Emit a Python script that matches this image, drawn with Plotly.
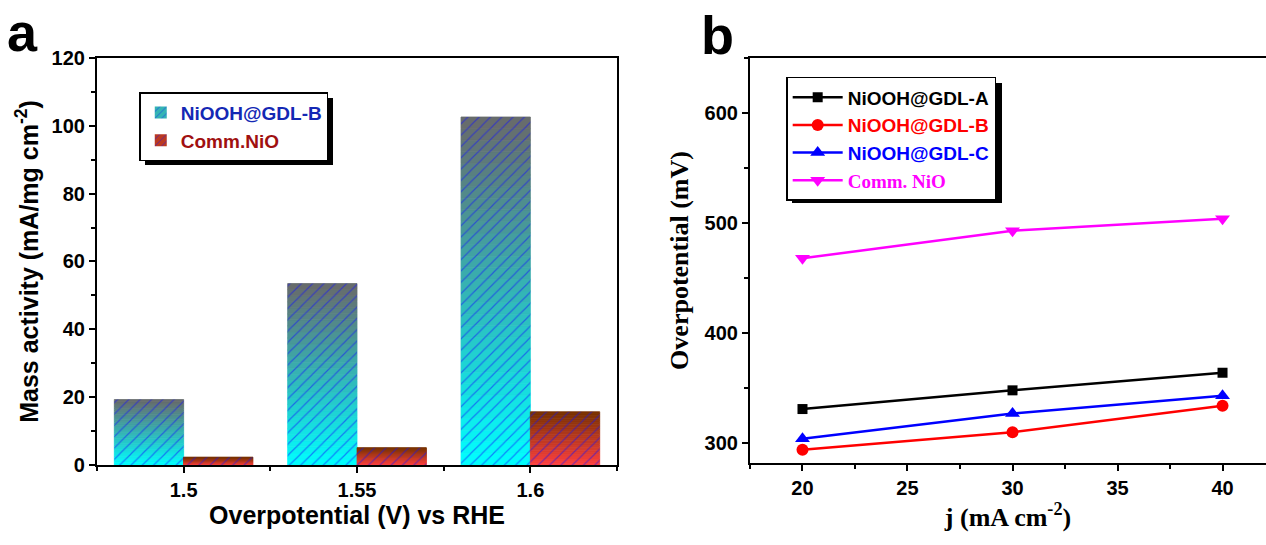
import plotly.graph_objects as go

# ---------------- data ----------------
potentials = ["1.5", "1.55", "1.6"]
niooh_b_mass = [19.3, 53.5, 102.6]
comm_nio_mass = [2.3, 5.1, 15.7]

j_vals = [20, 30, 40]
eta_a = [331, 348, 364]
eta_b = [294, 310, 334]
eta_c = [304, 327, 343]
eta_nio = [468, 493, 504]

# ---------------- styles ----------------
ARIAL = "Liberation Sans, Arial"
TIMES = "Liberation Serif, Times New Roman"
N_SEG = 30
W, H = 1266, 545

def lerp(c0, c1, t):
    return "rgb(%d,%d,%d)" % tuple(round(a + (b - a) * t) for a, b in zip(c0, c1))

fig = go.Figure()
xpos = list(range(len(potentials)))

series = [
    ("NiOOH@GDL-B", niooh_b_mass, (0, 255, 255), (105, 105, 105), "#1428b4", "g0"),
    ("Comm.NiO", comm_nio_mass, (255, 64, 64), (120, 50, 0), "#a01010", "g1"),
]

for name, vals, cbot, ctop, tcol, grp in series:
    # gradient: stacked slices of each bar
    for k in range(N_SEG):
        c = lerp(cbot, ctop, (k + 0.5) / N_SEG)
        fig.add_trace(go.Bar(
            x=xpos, y=[v / N_SEG for v in vals], base=[v * k / N_SEG for v in vals],
            offsetgroup=grp, marker=dict(color=c, line=dict(width=0.8, color=c)),
            showlegend=False, hoverinfo="skip", xaxis="x", yaxis="y"))
    # hatch overlay
    fig.add_trace(go.Bar(
        x=xpos, y=vals, offsetgroup=grp,
        marker=dict(color="rgba(0,0,0,0)", line=dict(width=0),
                    pattern=dict(shape="/", fgcolor="#1010ff", size=8, solidity=0.15, fillmode="overlay")),
        showlegend=False, xaxis="x", yaxis="y"))
    # legend entry
    fig.add_trace(go.Bar(
        x=[xpos[0]], y=[None], offsetgroup=grp, name='<span style="color:%s">%s</span>' % (tcol, name),
        marker=dict(color=lerp(cbot, ctop, 0.5), line=dict(width=0),
                    pattern=dict(shape="/", fgcolor="#1010ff", size=6, solidity=0.2, fillmode="overlay")),
        showlegend=True, legend="legend", xaxis="x", yaxis="y"))

line_series = [
    ("NiOOH@GDL-A", eta_a, "black", "square", 10, ARIAL),
    ("NiOOH@GDL-B", eta_b, "red", "circle", 12, ARIAL),
    ("NiOOH@GDL-C", eta_c, "blue", "triangle-up", 13, ARIAL),
    ("Comm. NiO", eta_nio, "magenta", "triangle-down", 13, TIMES),
]
for name, vals, col, sym, sz, fam in line_series:
    fig.add_trace(go.Scatter(
        x=j_vals, y=vals, mode="lines+markers",
        name='<span style="color:%s;font-family:%s">%s</span>' % (col, fam.split(",")[0], name),
        line=dict(color=col, width=2.5), marker=dict(color=col, symbol=sym, size=sz),
        legend="legend2", xaxis="x2", yaxis="y2"))

tickfont = dict(family=ARIAL, size=20, color="black", weight="bold")
axis_common = dict(showline=True, linecolor="black", linewidth=2, mirror=True,
                   ticks="outside", ticklen=6, tickwidth=2, tickcolor="black",
                   showgrid=False, zeroline=False, tickfont=tickfont, automargin=False)
minor_common = dict(ticks="outside", ticklen=4, tickwidth=2, tickcolor="black")

def shadow(x0, y0, x1, y1, off=6):
    return dict(type="rect", xref="paper", yref="paper", layer="above",
                x0=(x0 + off) / W, x1=(x1 + off) / W, y0=1 - (y1 + off) / H, y1=1 - (y0 + off) / H,
                fillcolor="black", line=dict(width=0))

fig.update_layout(
    width=W, height=H, margin=dict(l=0, r=0, t=0, b=0, autoexpand=False),
    paper_bgcolor="white", plot_bgcolor="white",
    barmode="group", bargap=0.2, bargroupgap=0,
    xaxis=dict(domain=[0.0766, 0.4874], range=[-0.5, 2.5], tickvals=xpos, ticktext=potentials,
               minor=dict(dtick=0.5, tick0=0, **minor_common),
               title=dict(text="Overpotential (V) vs RHE", font=dict(family=ARIAL, size=25, weight="bold", color="black"), standoff=6),
               anchor="y", **axis_common),
    yaxis=dict(domain=[0.1468, 0.8936], range=[0, 120], dtick=20,
               minor=dict(dtick=10, **minor_common),
               title=dict(text="Mass activity (mA/mg cm<sup>-2</sup>)", font=dict(family=ARIAL, size=25, weight="bold", color="black"), standoff=6),
               anchor="x", **axis_common),
    xaxis2=dict(domain=[0.5924, 1.0], range=[17.5, 42.07], dtick=5,
                minor=dict(dtick=2.5, **minor_common),
                title=dict(text="j (mA cm<sup>-2</sup>)", font=dict(family=TIMES, size=26, weight="bold", color="black"), standoff=6),
                anchor="y2", **axis_common),
    yaxis2=dict(domain=[0.1505, 0.8936], range=[282, 650], dtick=100, tick0=0,
                minor=dict(dtick=50, **minor_common),
                title=dict(text="Overpotential (mV)", font=dict(family=TIMES, size=26, weight="bold", color="black"), standoff=8),
                anchor="x2", **axis_common),
    legend=dict(x=0.11, y=0.831, xanchor="left", yanchor="top", bgcolor="white",
                bordercolor="black", borderwidth=1.5, font=dict(family=ARIAL, size=19, weight="bold"),
                tracegroupgap=0, itemsizing="constant"),
    legend2=dict(x=0.621, y=0.859, xanchor="left", yanchor="top", bgcolor="white",
                 bordercolor="black", borderwidth=1.5, font=dict(family=ARIAL, size=19, weight="bold"),
                 tracegroupgap=0, itemwidth=50),
    showlegend=True,
    shapes=[shadow(139, 92, 327, 159), shadow(786, 77, 996, 197)],
    annotations=[
        dict(text="a", x=0.004, y=1.0, xref="paper", yref="paper", xanchor="left", yanchor="top",
             showarrow=False, font=dict(family=ARIAL, size=54, weight="bold", color="black")),
        dict(text="b", x=0.552, y=0.994, xref="paper", yref="paper", xanchor="left", yanchor="top",
             showarrow=False, font=dict(family=ARIAL, size=54, weight="bold", color="black")),
    ],
)

fig.write_html("out.html")
